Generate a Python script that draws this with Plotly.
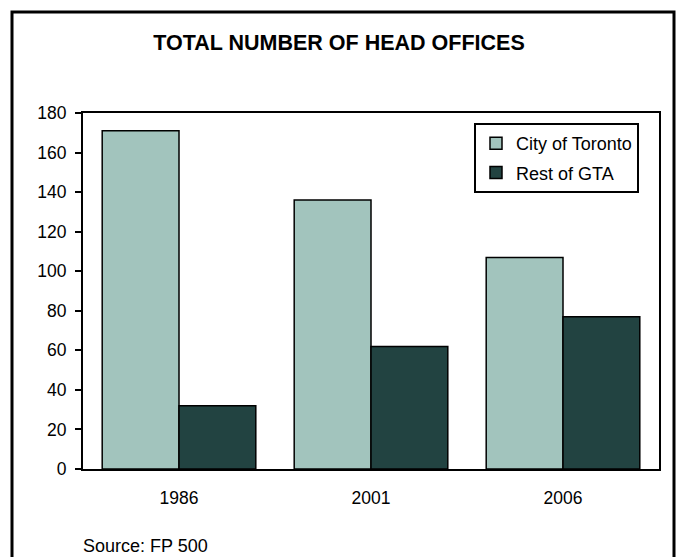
import plotly.graph_objects as go

years = ["1986", "2001", "2006"]
city_of_toronto = [171, 136, 107]
rest_of_gta = [32, 62, 77]
y_ticks = [0, 20, 40, 60, 80, 100, 120, 140, 160, 180]

W, H = 678, 557
L, R, T, B = 83, 19, 113, 88
pw, ph = W - L - R, H - T - B

def px(x):
    return (x - L) / pw

def py(y):
    return (H - B - y) / ph

fig = go.Figure()
fig.add_trace(go.Bar(
    x=years, y=city_of_toronto, name="City of Toronto", legendgroup="a",
    marker=dict(color="#A2C4BD", line=dict(color="black", width=1.5)),
))
fig.add_trace(go.Bar(
    x=years, y=rest_of_gta, name="Rest of GTA", legendgroup="b",
    marker=dict(color="#224341", line=dict(color="black", width=1.5)),
))

fig.update_layout(
    width=W, height=H,
    margin=dict(l=L, r=R, t=T, b=B),
    paper_bgcolor="white", plot_bgcolor="white",
    font=dict(family="Liberation Sans, Arial, sans-serif", size=17.5, color="black"),
    barmode="group", bargap=0.2, bargroupgap=0,
    title=dict(text="<b>TOTAL NUMBER OF HEAD OFFICES</b>", x=0.5, xanchor="center",
               y=1 - 42 / H, yanchor="middle", font=dict(size=21.5)),
    legend=dict(x=px(639), y=py(123), xanchor="right", yanchor="top",
                bordercolor="black", borderwidth=2, bgcolor="white",
                font=dict(size=18), tracegroupgap=3, traceorder="grouped",
                itemwidth=30),
    xaxis=dict(showline=True, linecolor="black", linewidth=2, mirror=True,
               ticks="", showgrid=False, tickfont=dict(size=17.5),
               ticklabelstandoff=12),
    yaxis=dict(range=[0, 180], tickvals=y_ticks, showline=True, linecolor="black",
               linewidth=2, mirror=True, ticks="outside", ticklen=6, tickwidth=2,
               tickcolor="black", showgrid=False, zeroline=False, tickfont=dict(size=17.5),
               ticklabelstandoff=5),
    shapes=[dict(type="rect", xref="paper", yref="paper",
                 x0=px(12), x1=px(674), y0=py(570), y1=py(12),
                 line=dict(color="black", width=3))],
    annotations=[dict(text="Source: FP 500", xref="paper", yref="paper",
                      x=px(81), y=py(546), xanchor="left", yanchor="middle",
                      showarrow=False, font=dict(size=18))],
)

fig.write_html("out.html")
